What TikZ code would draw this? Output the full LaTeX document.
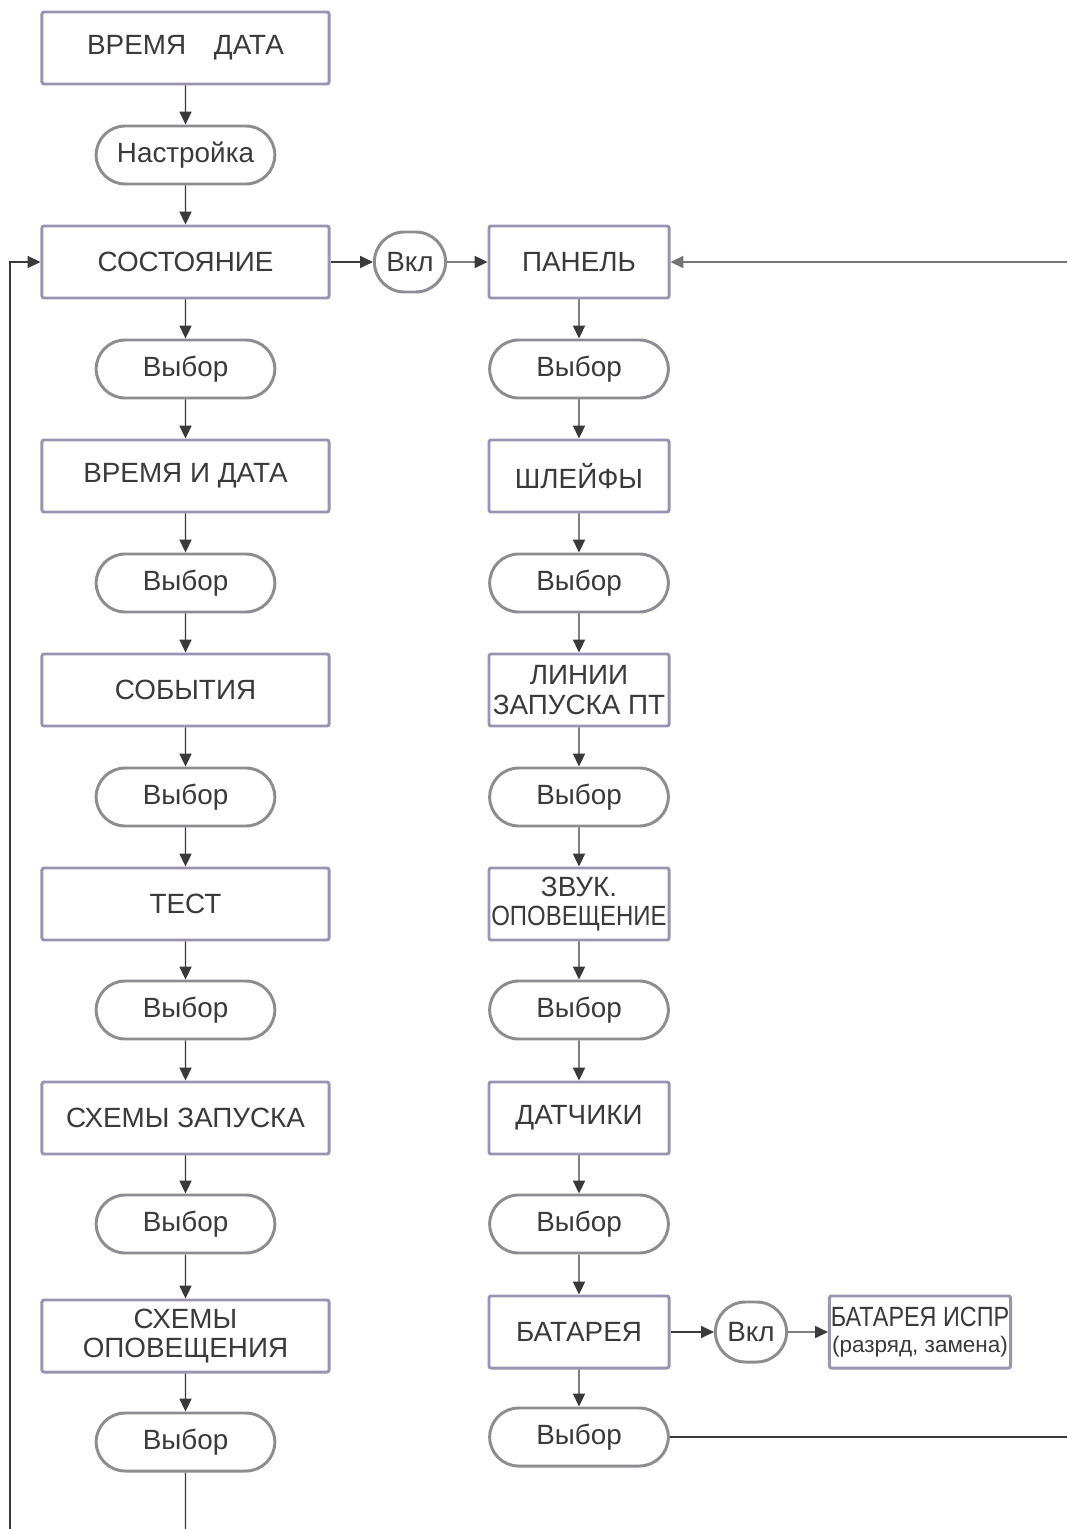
\documentclass[tikz,border=0pt]{standalone}
\usepackage{fontspec}
\setmainfont{Liberation Sans}
\usetikzlibrary{positioning, arrows.meta, shapes.misc}
\definecolor{boxline}{HTML}{9A94B2}
\definecolor{ovalline}{HTML}{8C8C92}
\definecolor{ink}{HTML}{3A3A3A}
\newcommand{\narrow}[2]{\scalebox{#1}[1]{#2}}

\begin{document}
\begin{tikzpicture}[x=0.025cm, y=-0.025cm,
  menu/.style={draw=boxline, line width=2.1pt, rounded corners=1.5pt, fill=white,
               minimum width=7.175cm, minimum height=1.8cm, align=center, inner sep=1pt,
               text=ink, font=\fontsize{19.8}{21}\selectfont},
  sub/.style={menu, minimum width=4.5cm},
  key/.style={draw=ovalline, line width=2.1pt, rounded rectangle, fill=white,
              minimum width=4.7cm, minimum height=1.45cm, align=center,
              text=ink, font=\fontsize{19.8}{21}\selectfont},
  onkey/.style={key, minimum width=1.85cm, minimum height=1.5cm, inner sep=1pt},
  arr/.style={-{Triangle[length=0.32cm, width=0.3cm]}, line width=1pt, draw=ink},
  line/.style={line width=1pt, draw=ink},
]
\useasboundingbox (0,0) rectangle (1067,1529);

% --- Left column ---
\node[menu] (l0) at (185.5,48)   {ВРЕМЯ\quad ДАТА};
\node[key]  (k0) at (185.5,155)  {Настройка};
\node[menu] (l1) at (185.5,262)  {СОСТОЯНИЕ};
\node[key]  (k1) at (185.5,369)  {Выбор};
\node[menu] (l2) at (185.5,476)  {ВРЕМЯ И ДАТА};
\node[key]  (k2) at (185.5,583)  {Выбор};
\node[menu] (l3) at (185.5,690)  {СОБЫТИЯ};
\node[key]  (k3) at (185.5,797)  {Выбор};
\node[menu] (l4) at (185.5,904)  {ТЕСТ};
\node[key]  (k4) at (185.5,1010) {Выбор};
\node[menu] (l5) at (185.5,1118) {СХЕМЫ ЗАПУСКА};
\node[key]  (k5) at (185.5,1224) {Выбор};
\node[menu] (l6) at (185.5,1336) {СХЕМЫ\\ОПОВЕЩЕНИЯ};
\node[key]  (k6) at (185.5,1442) {Выбор};

% --- Right column ---
\node[sub] (r1) at (579,262)  {ПАНЕЛЬ};
\node[key] (q1) at (579,369)  {Выбор};
\node[sub] (r2) at (579,476)  {ШЛЕЙФЫ};
\node[key] (q2) at (579,583)  {Выбор};
\node[sub] (r3) at (579,690)  {ЛИНИИ\\ЗАПУСКА ПТ};
\node[key] (q3) at (579,797)  {Выбор};
\node[sub] (r4) at (579,904)  {ЗВУК.\\\narrow{0.86}{ОПОВЕЩЕНИЕ}};
\node[key] (q4) at (579,1010) {Выбор};
\node[sub] (r5) at (579,1118) {ДАТЧИКИ};
\node[key] (q5) at (579,1224) {Выбор};
\node[sub] (r6) at (579,1332) {БАТАРЕЯ};
\node[key] (q6) at (579,1437) {Выбор};

% --- Switch keys ---
\node[onkey] (v1) at (410,262)  {Вкл};
\node[onkey] (v2) at (751,1332) {Вкл};
\node[sub] (b1) at (920,1332)
  {\narrow{0.84}{БАТАРЕЯ ИСПР}\\[-2pt]{\fontsize{16}{17}\selectfont(разряд, замена)}};

% --- Arrows: left flow ---
\foreach \a/\b in {l0/k0, k0/l1, l1/k1, k1/l2, l2/k2, k2/l3, l3/k3, k3/l4,
                   l4/k4, k4/l5, l5/k5, k5/l6, l6/k6}
  \draw[arr] (\a) -- (\b);

% --- Arrows: right flow ---
\foreach \a/\b in {r1/q1, q1/r2, r2/q2, q2/r3, r3/q3, q3/r4, r4/q4,
                   q4/r5, r5/q5, q5/r6, r6/q6}
  \draw[arr] (\a) -- (\b);

\draw[arr] (l1) -- (v1);
\draw[arr] (v1) -- (r1);
\draw[arr] (r6) -- (v2);
\draw[arr] (v2) -- (b1);

% --- Return lines ---
\coordinate (bl) at (10,1529);
\coordinate (bm) at (185.5,1529);
\coordinate (rt) at (1067,262);
\coordinate (rb) at (1067,1437);
\draw[line] (k6) -- (k6 |- bm);
\draw[arr] (bl) |- (l1.west);
\draw[arr, draw=ink!70] (rt) -- (r1.east);
\draw[line] (q6.east) -- (q6.east -| rb);

\end{tikzpicture}
\end{document}
